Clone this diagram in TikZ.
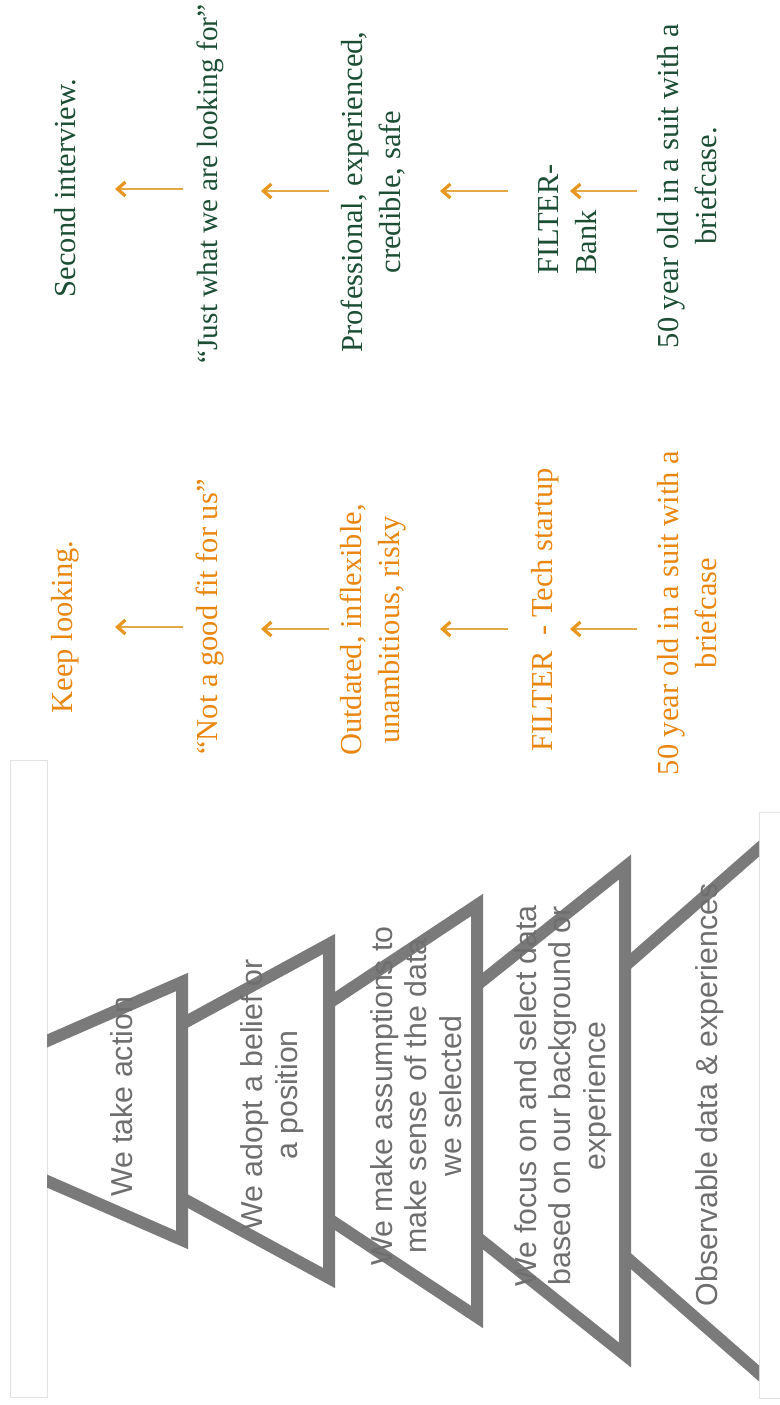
\documentclass[tikz,border=0pt]{standalone}
\usepackage{fontspec}
\setmainfont{Liberation Serif}
\newfontfamily\lsans{Liberation Sans}
\usetikzlibrary{arrows.meta}
\definecolor{grn}{HTML}{1C4E34}
\definecolor{org}{HTML}{E8860F}
\definecolor{arrc}{HTML}{E6A845}
\definecolor{arrh}{HTML}{E8961E}
\definecolor{zig}{HTML}{7A7A7A}
\definecolor{lbl}{HTML}{6E6E6E}
\definecolor{barc}{HTML}{E2E2E2}
\begin{document}
\begin{tikzpicture}[x=1pt,y=-1pt,
  gtxt/.style={text=grn, rotate=90, inner sep=0pt, align=center, font=\fontsize{30.5}{38}\selectfont},
  otxt/.style={gtxt, text=org},
  ltxt/.style={text=lbl, rotate=90, inner sep=0pt, align=center, font=\lsans\fontsize{30.3}{34.5}\selectfont},
  arrow/.style={draw=arrc, line width=2.5pt, -{Straight Barb[length=8pt,width=14pt,line width=3.2pt,color=arrh]}},
  zz/.style={draw=zig, line width=12pt, miter limit=10},
  barbox/.style={draw=barc, line width=1pt, fill=white}]
\useasboundingbox (0,0) rectangle (779,1405);
% faint side frames
\path[barbox] (10,760) rectangle (47,1397);
\path[barbox] (759,812) rectangle (790,1398);
% ladder
\begin{scope}
\clip (47,0) rectangle (759,1405);
\draw[zz] (40,1044) -- (182,982) -- (182,1240) -- (40,1178);
\draw[zz] (182,1024) -- (329,944) -- (329,1278) -- (182,1198);
\draw[zz] (329,1003) -- (477,905) -- (477,1317) -- (329,1219);
\draw[zz] (477,985) -- (625,867) -- (625,1355) -- (477,1237);
\draw[zz] (625,966) -- (770,839);
\draw[zz] (625,1256) -- (770,1383);
\end{scope}
% ladder labels
\node[ltxt] (l1) at (122,1097) {We take action};
\node[ltxt] (l2) at (272,1095) {We adopt a belief or\\a position};
\node[ltxt] (l3) at (416,1096) {We make assumptions to\\make sense of the data\\we selected};
\node[ltxt] (l4) at (563,1096) {We focus on and select data\\based on our background or\\experience};
\node[ltxt] (l5) at (710,1095) {Observable data \& experiences};
% green column
\node[gtxt] (g5) at (65,188) {Second interview.};
\node[gtxt, font=\fontsize{29.3}{38}\selectfont] (g4) at (210,184) {“Just what we are looking for”};
\node[gtxt] (g3) at (373,192) {Professional, experienced,\\credible, safe};
\node[gtxt, align=left, anchor=west] (g2) at (568,275) {FILTER-\\Bank};
\node[gtxt] (g1) at (687,186) {50 year old in a suit with a\\briefcase.};
% orange column
\node[otxt] (o5) at (65,627) {Keep looking.};
\node[otxt] (o4) at (210,617) {“Not a good fit for us”};
\node[otxt] (o3) at (373,630) {Outdated, inflexible,\\unambitious, risky};
\node[otxt] (o2) at (545,610) {FILTER~ - Tech startup};
\node[otxt] (o1) at (687,613) {50 year old in a suit with a\\briefcase};
% arrow end points
\coordinate (ga4t) at (183,189); \coordinate (ga4h) at (115,189);
\coordinate (ga3t) at (329,191); \coordinate (ga3h) at (261,191);
\coordinate (ga2t) at (508,191); \coordinate (ga2h) at (440,191);
\coordinate (ga1t) at (637,191); \coordinate (ga1h) at (570,191);
\coordinate (oa4t) at (183,627); \coordinate (oa4h) at (115,627);
\coordinate (oa3t) at (329,629); \coordinate (oa3h) at (261,629);
\coordinate (oa2t) at (508,629); \coordinate (oa2h) at (440,629);
\coordinate (oa1t) at (637,629); \coordinate (oa1h) at (570,629);
\foreach \a in {ga4,ga3,ga2,ga1,oa4,oa3,oa2,oa1}
  \draw[arrow] (\a t) -- (\a h);
\end{tikzpicture}
\end{document}
